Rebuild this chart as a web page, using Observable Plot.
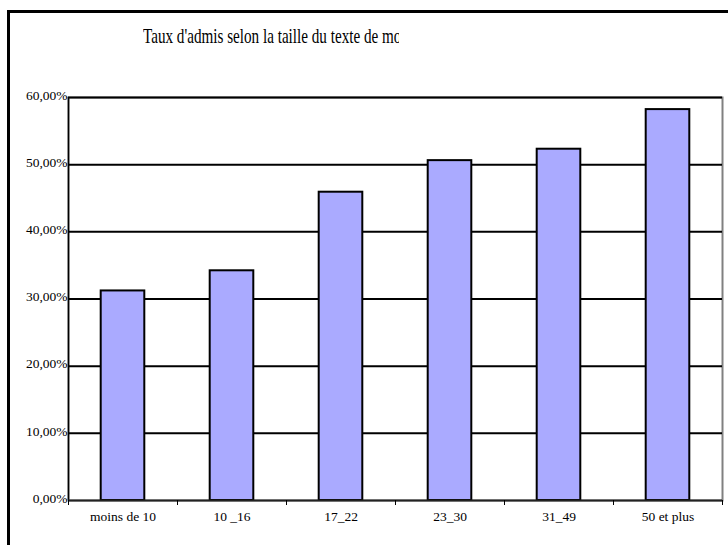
<!DOCTYPE html>
<html>
<head>
<meta charset="utf-8">
<script src="https://cdn.jsdelivr.net/npm/d3@7"></script>
<script src="https://cdn.jsdelivr.net/npm/@observablehq/plot@0.6"></script>
<style>
  html, body { margin: 0; padding: 0; background: #fff; }
  #wrap { position: relative; width: 728px; height: 545px; overflow: hidden; background: #fff; }
  #frame { position: absolute; left: 7px; top: 10px; width: 800px; height: 600px;
           border-left: 3px solid #000; border-top: 3px solid #000; }
  #titleclip { position: absolute; left: 143px; top: 20px; width: 256px; height: 32px; overflow: hidden; }
  #chart { position: absolute; left: 0; top: 0; }
</style>
</head>
<body>
<div id="wrap">
  <div id="frame"></div>
  <div id="titleclip">
    <svg width="256" height="32" xmlns="http://www.w3.org/2000/svg">
      <text transform="translate(0,23) scale(0.74,1)" font-family="Liberation Serif" font-size="20.5" fill="#000">Taux d'admis selon la taille du texte de motivation</text>
    </svg>
  </div>
  <div id="chart"></div>
</div>
<script>
const categories = ["moins de 10", "10 _16", "17_22", "23_30", "31_49", "50 et plus"];
const rates = [0.312, 0.342, 0.459, 0.506, 0.523, 0.582];
const yTicks = [0, 0.1, 0.2, 0.3, 0.4, 0.5, 0.6];
const yTickLabels = ["0,00%", "10,00%", "20,00%", "30,00%", "40,00%", "50,00%", "60,00%"];

const gap = 0.3;
const data = categories.map((c, i) => ({cat: c, x1: i + gap, x2: i + 1 - gap, rate: rates[i]}));
const boundaries = d3.range(0, categories.length + 1);
const centers = categories.map((c, i) => i + 0.5);

const chart = Plot.plot({
  width: 728,
  height: 545,
  marginLeft: 68,
  marginRight: 6,
  marginTop: 97,
  marginBottom: 45,
  x: {domain: [0, categories.length], axis: null, label: null},
  y: {domain: [0, 0.6], axis: null, label: null},
  style: {fontFamily: "Liberation Serif", fontSize: "13.5px", background: "transparent", color: "#000"},
  marks: [
    Plot.frame({stroke: "#808080", strokeWidth: 2}),
    Plot.ruleY(yTicks.slice(1), {stroke: "#000", strokeWidth: 2}),
    Plot.rect(data, {x1: "x1", x2: "x2", y1: 0, y2: "rate", fill: "#AAAAFF", stroke: "#000", strokeWidth: 2}),
    Plot.ruleX([0], {stroke: "#000", strokeWidth: 1.5}),
    Plot.ruleY([0], {stroke: "#222", strokeWidth: 2}),
    Plot.axisX(boundaries, {tickSize: 5, tickFormat: () => "", stroke: "#000", label: null}),
    Plot.axisX(centers, {tickSize: 0, tickPadding: 11, tickFormat: d => categories[Math.floor(d)], fill: "#000", label: null}),
    Plot.axisY(yTicks, {tickSize: 0, tickPadding: 1, dy: -2, tickFormat: d => yTickLabels[Math.round(d * 10)], fill: "#000", label: null})
  ]
});
document.getElementById("chart").appendChild(chart);
</script>
</body>
</html>
